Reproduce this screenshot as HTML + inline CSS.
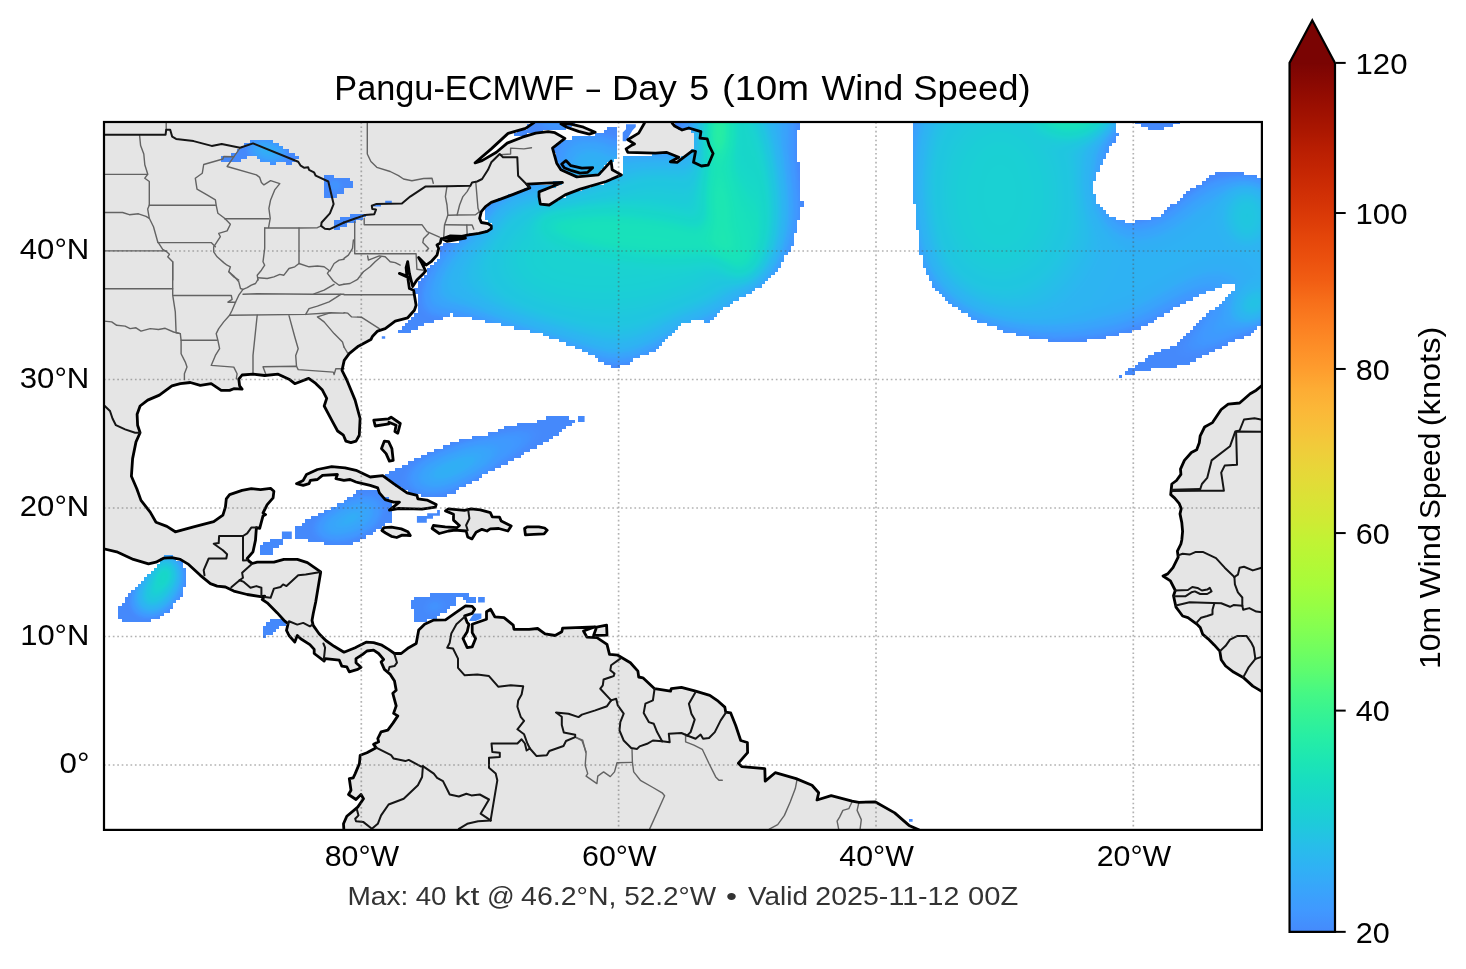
<!DOCTYPE html>
<html><head><meta charset="utf-8"><title>Pangu-ECMWF Day 5 10m Wind Speed</title>
<style>html,body{margin:0;padding:0;background:#fff;}body{width:1466px;height:969px;overflow:hidden;font-family:"Liberation Sans",sans-serif;}svg{display:block;}text{font-family:"Liberation Sans",sans-serif;}</style>
</head><body>
<svg width="1466" height="969" viewBox="0 0 1466 969">
<defs>
<clipPath id="frame"><rect x="104.0" y="122.0" width="1157.9" height="707.9"/></clipPath>
<linearGradient id="cb" x1="0" y1="1" x2="0" y2="0"><stop offset="0.0000" stop-color="#458afc"/><stop offset="0.0250" stop-color="#4099ff"/><stop offset="0.0500" stop-color="#38a5fb"/><stop offset="0.0750" stop-color="#2fb2f4"/><stop offset="0.1000" stop-color="#27bee9"/><stop offset="0.1250" stop-color="#1ecbda"/><stop offset="0.1500" stop-color="#19d5cd"/><stop offset="0.1750" stop-color="#18dec0"/><stop offset="0.2000" stop-color="#1de7b2"/><stop offset="0.2250" stop-color="#27eea4"/><stop offset="0.2500" stop-color="#35f394"/><stop offset="0.2750" stop-color="#46f884"/><stop offset="0.3000" stop-color="#5dfc6f"/><stop offset="0.3250" stop-color="#71fe5f"/><stop offset="0.3500" stop-color="#84ff51"/><stop offset="0.3750" stop-color="#96fe44"/><stop offset="0.4000" stop-color="#a7fc3a"/><stop offset="0.4250" stop-color="#b4f836"/><stop offset="0.4500" stop-color="#c1f334"/><stop offset="0.4750" stop-color="#d0ea34"/><stop offset="0.5000" stop-color="#dbe236"/><stop offset="0.5250" stop-color="#e5d938"/><stop offset="0.5500" stop-color="#eecf3a"/><stop offset="0.5750" stop-color="#f6c33a"/><stop offset="0.6000" stop-color="#fbb838"/><stop offset="0.6250" stop-color="#fdac34"/><stop offset="0.6500" stop-color="#fe9b2d"/><stop offset="0.6750" stop-color="#fd8d27"/><stop offset="0.7000" stop-color="#fb7e21"/><stop offset="0.7250" stop-color="#f76f1a"/><stop offset="0.7500" stop-color="#f15d13"/><stop offset="0.7750" stop-color="#eb500e"/><stop offset="0.8000" stop-color="#e4450a"/><stop offset="0.8250" stop-color="#da3907"/><stop offset="0.8500" stop-color="#d02f05"/><stop offset="0.8750" stop-color="#c52603"/><stop offset="0.9000" stop-color="#b91e02"/><stop offset="0.9250" stop-color="#a91601"/><stop offset="0.9500" stop-color="#9b0f01"/><stop offset="0.9750" stop-color="#8b0902"/><stop offset="1.0000" stop-color="#7a0403"/></linearGradient>
<filter id="wfA" filterUnits="userSpaceOnUse" x="-100" y="-100" width="1700" height="1200" color-interpolation-filters="sRGB"><feGaussianBlur stdDeviation="17"/></filter><filter id="wfB" filterUnits="userSpaceOnUse" x="-100" y="-100" width="1700" height="1200" color-interpolation-filters="sRGB"><feGaussianBlur stdDeviation="9"/></filter><filter id="wfC" filterUnits="userSpaceOnUse" x="-100" y="-100" width="1700" height="1200" color-interpolation-filters="sRGB"><feGaussianBlur stdDeviation="30"/></filter><filter id="wmap" filterUnits="userSpaceOnUse" x="-100" y="-100" width="1700" height="1200" color-interpolation-filters="sRGB"><feColorMatrix in="SourceGraphic" type="matrix" values="0 0 0 1 0  0 0 0 1 0  0 0 0 1 0  0 0 0 0 1" result="g"/><feComponentTransfer in="g"><feFuncR type="table" tableValues="0.271 0.271 0.271 0.271 0.271 0.271 0.271 0.271 0.271 0.271 0.271 0.271 0.271 0.263 0.255 0.251 0.243 0.231 0.227 0.220 0.216 0.200 0.192 0.184 0.180 0.180 0.173 0.165 0.157 0.153 0.145 0.137 0.133 0.125 0.125 0.122 0.118 0.110 0.106 0.102 0.102 0.098 0.094 0.094 0.094 0.094 0.094 0.094 0.098 0.098 0.102 0.110 0.114 0.122 0.133 0.145 0.153 0.165 0.173 0.184 0.196 0.208 0.220 0.235 0.247"/><feFuncG type="table" tableValues="0.541 0.541 0.541 0.541 0.541 0.541 0.541 0.541 0.541 0.541 0.541 0.541 0.549 0.569 0.588 0.600 0.608 0.627 0.639 0.647 0.659 0.678 0.686 0.698 0.706 0.706 0.718 0.725 0.737 0.745 0.753 0.765 0.773 0.780 0.780 0.788 0.796 0.804 0.816 0.824 0.831 0.835 0.843 0.843 0.851 0.859 0.871 0.878 0.886 0.890 0.894 0.902 0.906 0.914 0.922 0.925 0.933 0.937 0.941 0.945 0.949 0.953 0.957 0.961 0.965"/><feFuncB type="table" tableValues="0.988 0.988 0.988 0.988 0.988 0.988 0.988 0.988 0.988 0.988 0.988 0.988 0.992 0.996 1.000 1.000 0.996 0.992 0.988 0.984 0.980 0.969 0.961 0.957 0.949 0.949 0.941 0.933 0.922 0.914 0.906 0.894 0.886 0.875 0.875 0.867 0.855 0.847 0.835 0.824 0.816 0.804 0.792 0.792 0.784 0.773 0.753 0.741 0.733 0.725 0.714 0.706 0.698 0.686 0.667 0.655 0.643 0.631 0.620 0.608 0.596 0.580 0.569 0.557 0.541"/></feComponentTransfer></filter><clipPath id="wclip"><path d="M527,188H524V191H517V194H508V198H498V201H492V204H488V207H485V220H488V223H492V230H485V233H469V236H466V239H459V243H443V246H440V259H437V262H434V265H430V268H427V275H424V278H421V281H418V288H414V294H418V313H414V317H411V320H408V323H405V326H402V330H398V333H411V330H418V326H424V323H434V320H443V317H450V313H453V317H472V320H485V323H501V326H514V330H530V333H543V336H549V339H559V342H566V346H575V349H582V352H588V355H595V358H598V362H604V365H611V368H620V365H630V362H633V358H640V355H649V352H656V349H659V346H662V342H665V339H668V336H672V333H675V330H678V326H681V323H691V320H704V323H710V320H714V317H717V313H720V310H723V307H730V304H733V301H739V297H746V294H752V291H755V288H762V284H765V281H768V278H771V275H775V272H778V268H781V262H784V255H788V252H791V246H794V233H797V220H800V207H804V201H800V162H797V130H800V111H675V127H678V130H691V133H694V149H691V153H688V156H681V159H678V156H672V153H652V156H623V175H617V178H611V181H604V185H591V188H582V191H572V194H566V198H559V201H553V204H540V191H546V188H556V185H562V181H553V185H527Z M678,162H672V159H678Z M913,111V204H916V230H919V255H923V268H926V275H929V281H932V288H935V291H939V294H942V297H945V301H948V304H952V307H958V310H961V313H968V317H971V320H977V323H987V326H997V330H1003V333H1016V336H1029V339H1048V342H1087V339H1106V336H1119V333H1132V330H1141V326H1148V323H1154V320H1157V317H1164V313H1170V310H1173V307H1180V304H1186V301H1193V297H1199V294H1206V291H1215V288H1222V284H1235V291H1231V294H1228V297H1225V301H1222V304H1219V307H1215V310H1209V313H1206V317H1202V320H1199V323H1196V326H1193V330H1190V333H1186V336H1183V339H1180V342H1177V346H1170V349H1161V352H1154V355H1148V358H1145V362H1138V365H1135V368H1128V371H1125V375H1135V371H1151V368H1177V365H1190V362H1196V358H1202V355H1209V352H1215V349H1222V346H1228V342H1235V339H1244V336H1251V333H1254V330H1257V326H1264V323H1270V320H1273V178H1257V175H1244V172H1215V175H1209V178H1206V181H1202V185H1196V188H1190V191H1186V194H1183V198H1180V201H1177V204H1170V207H1167V210H1164V214H1161V217H1151V220H1135V223H1125V220H1116V217H1109V214H1106V210H1103V207H1100V204H1096V194H1093V181H1096V172H1100V165H1103V159H1106V153H1109V146H1112V143H1116V136H1119V133H1116V111Z M1122,378V375H1119V378Z M1135,111V124H1141V127H1148V130H1164V127H1173V124H1180V117H1183V111Z M421,458H414V461H408V465H402V468H395V471H389V474H385V478H389V481H392V484H395V487H402V490H408V494H421V497H447V494H456V490H459V487H466V484H472V481H479V478H482V474H488V471H495V468H501V465H508V461H514V458H521V455H524V452H530V449H537V445H543V442H549V439H553V436H559V432H562V429H566V426H572V423H575V420H569V416H546V420H537V423H517V426H504V429H498V432H488V436H472V439H459V442H450V445H443V449H434V452H427V455H421Z M578.0,416.0 L584.6,416.0 L584.6,422.0 L578.0,422.0Z M305,519V523H302V526H295V539H308V542H324V545H353V542H360V539H366V535H373V532H376V529H382V526H385V523H392V500H389V497H382V494H379V490H356V494H353V497H347V500H344V503H337V507H331V510H324V513H318V516H311V519Z M270,539V542H263V545H260V555H273V548H279V545H283V539Z M281.9,531.5 L291.8,531.5 L291.8,539.1 L281.9,539.1Z M416.9,516.1 L427.2,516.1 L427.2,513.2 L437.1,513.2 L437.1,509.9 L439.9,509.9 L439.9,515.7 L433.0,515.7 L433.0,518.8 L426.8,518.8 L426.8,522.7 L416.9,522.7Z M131,590V593H128V597H125V603H122V606H118V619H122V622H151V619H160V616H164V613H170V609H173V603H176V600H180V597H183V587H186V568H183V561H176V558H173V555H164V558H160V564H157V568H154V571H151V574H147V577H144V581H141V584H138V587H135V590Z M270,619V622H266V626H263V638H266V635H273V632H276V629H279V626H286V622H283V619Z M456,606V597H463V600H466V603H476V597H469V593H430V597H414V600H411V609H414V622H427V619H437V616H440V613H447V609H450V606Z M478.1,597.0 L484.8,597.0 L484.8,602.5 L478.1,602.5Z M468.9,620.9 L473.9,613.4 L481.4,613.4 L481.4,618.4 L475.6,620.9Z M250,143H244V146H241V149H237V153H231V156H221V162H241V159H247V156H257V159H260V162H270V165H276V162H286V165H292V162H295V159H299V156H295V153H289V149H283V146H279V143H273V140H250Z M324,175V198H337V194H344V188H353V181H350V178H334V175Z M366,214H350V217H340V220H334V230H340V227H347V223H356V220H363V217H366Z M373.4,204.5 L381.0,204.5 L381.0,206.5 L373.4,206.5Z M385.2,200.8 L391.8,200.8 L391.8,203.3 L385.2,203.3Z M553,153H556V165H559V169H562V172H569V175H575V178H578V175H601V169H604V165H607V162H614V159H617V127H607V130H604V133H595V136H572V140H562V143H556V146H553Z M530,111V124H527V130H517V133H514V136H527V133H543V130H566V127H572V124H575V111Z M622.7,141.2 L622.7,132.5 L626.0,129.2 L626.0,124.3 L635.8,124.3 L635.8,127.0 L632.6,130.3 L629.3,135.7 L626.0,141.2Z M909.0,819.0 L912.6,819.0 L912.6,821.7 L909.0,821.7Z M381.8,336.2 L385.2,336.2 L385.2,338.7 L381.8,338.7Z" clip-rule="evenodd" shape-rendering="crispEdges"/></clipPath>
</defs>
<rect width="1466" height="969" fill="#fff"/>
<g clip-path="url(#frame)">
<path d="M98.0,115.0 L536.5,114.7 L534.0,122.7 L525.6,128.4 L508.1,133.4 L491.3,148.9 L475.1,162.8 L482.1,160.6 L496.4,152.3 L507.2,143.1 L522.3,137.2 L535.7,133.1 L548.2,131.7 L554.9,132.7 L564.9,138.4 L552.5,148.1 L556.7,163.2 L560.9,169.8 L576.8,176.9 L598.5,174.9 L611.1,161.1 L612.2,169.8 L621.4,174.9 L606.1,181.5 L580.1,189.1 L565.1,194.9 L549.2,205.0 L540.3,204.1 L539.0,196.6 L539.0,191.9 L562.4,182.5 L546.4,183.2 L526.8,184.2 L529.8,187.9 L513.9,194.1 L500.5,199.1 L491.3,202.4 L485.5,206.6 L481.3,211.6 L479.6,218.3 L481.3,222.5 L488.0,223.7 L491.3,225.9 L491.3,228.7 L487.2,231.4 L478.8,233.4 L467.1,235.1 L457.1,237.6 L447.0,238.4 L441.2,238.7 L440.3,243.0 L437.0,245.0 L438.7,248.4 L437.0,255.1 L431.1,261.7 L426.1,265.1 L418.6,257.6 L421.9,263.4 L425.6,270.9 L423.6,273.4 L416.9,280.1 L412.7,286.5 L409.4,273.4 L407.7,261.7 L406.1,267.6 L406.9,276.0 L399.4,273.4 L407.7,277.1 L409.4,288.5 L413.6,290.2 L416.1,305.2 L414.4,310.2 L407.7,317.8 L395.2,321.1 L385.2,328.6 L377.6,331.1 L372.6,336.2 L370.9,339.5 L358.4,346.2 L349.2,353.7 L344.2,360.4 L342.0,370.4 L346.8,380.0 L355.1,400.1 L360.1,418.5 L359.3,435.2 L356.0,441.1 L350.9,442.7 L345.9,441.1 L343.4,435.2 L337.6,431.0 L331.7,420.2 L324.2,406.0 L326.7,398.4 L322.4,390.1 L315.7,383.4 L308.7,378.4 L294.8,383.7 L289.0,379.2 L278.1,374.2 L264.7,375.5 L253.0,374.2 L242.1,375.0 L238.8,379.2 L239.6,385.9 L242.1,389.2 L233.8,388.7 L229.6,390.4 L221.2,390.4 L211.2,383.7 L200.3,385.4 L190.3,382.5 L180.3,383.7 L171.9,385.9 L159.4,395.1 L147.7,400.1 L140.1,406.0 L137.1,414.3 L137.6,425.2 L140.1,432.7 L136.0,441.9 L132.6,458.6 L131.4,476.2 L136.8,488.7 L141.0,500.4 L150.2,512.1 L156.0,522.2 L166.9,526.4 L175.3,531.8 L193.6,526.8 L213.7,521.7 L222.9,515.1 L225.4,507.1 L226.3,498.8 L229.6,494.6 L242.1,490.4 L251.3,488.7 L260.5,489.6 L270.6,488.4 L273.9,491.2 L273.1,497.9 L267.2,504.6 L263.0,513.0 L265.6,514.6 L263.0,515.9 L259.7,528.4 L256.4,527.6 L255.5,540.1 L253.0,551.8 L247.2,558.5 L248.8,561.0 L252.2,563.5 L257.2,562.2 L273.9,562.2 L283.9,559.4 L297.3,559.4 L307.4,562.7 L320.7,571.9 L318.2,587.0 L315.7,602.0 L313.2,613.7 L312.0,620.4 L313.2,625.4 L319.1,633.8 L325.8,640.5 L334.1,646.3 L344.0,652.2 L355.2,647.7 L366.1,642.2 L373.6,642.7 L381.9,645.2 L388.6,649.4 L394.5,653.5 L401.2,653.5 L408.7,647.7 L416.2,643.5 L418.7,630.1 L424.6,624.3 L433.8,620.1 L445.5,619.8 L457.2,611.7 L465.6,605.9 L472.2,606.4 L474.7,609.2 L472.2,613.4 L464.7,615.9 L467.2,622.6 L468.9,624.3 L467.2,631.8 L463.0,638.5 L467.2,647.7 L472.2,646.9 L475.6,638.5 L472.2,632.6 L472.2,624.3 L486.5,619.3 L486.5,611.7 L490.6,609.2 L494.8,616.8 L504.0,617.6 L513.2,625.1 L514.0,629.3 L529.1,629.3 L537.6,628.5 L545.1,633.8 L555.1,635.5 L561.8,631.8 L562.6,628.1 L595.3,626.8 L583.5,631.0 L586.9,637.2 L596.9,637.7 L607.0,644.3 L609.5,654.4 L617.8,655.2 L630.4,662.7 L637.9,671.1 L638.7,677.0 L642.9,677.8 L654.6,688.7 L670.5,691.2 L671.3,688.7 L681.4,687.3 L695.6,691.2 L709.8,695.4 L718.2,701.2 L724.8,707.1 L725.7,712.1 L730.7,712.9 L735.7,725.5 L740.7,740.5 L747.4,742.5 L747.6,752.7 L738.4,763.2 L741.7,766.6 L764.8,768.6 L765.2,781.1 L775.2,772.7 L796.1,778.6 L812.0,785.3 L818.7,792.8 L817.0,800.0 L831.2,795.7 L852.1,801.2 L858.8,802.3 L875.5,802.0 L894.7,812.9 L909.0,825.4 L918.2,829.6 L929.0,835.5 L343.8,832.1 L343.8,828.8 L343.5,823.8 L346.8,816.3 L357.7,807.1 L363.5,798.7 L361.0,794.5 L356.0,799.5 L348.5,794.5 L351.0,790.3 L349.3,778.6 L353.2,777.8 L355.2,773.6 L359.4,763.6 L360.2,755.2 L366.9,752.7 L376.1,747.7 L373.6,744.3 L378.6,741.8 L377.8,738.5 L381.1,731.8 L387.8,730.1 L392.8,723.4 L397.8,715.9 L393.6,713.4 L396.2,705.9 L392.8,693.3 L396.2,690.3 L394.5,681.1 L390.3,674.4 L384.4,669.4 L381.1,661.9 L383.6,659.4 L378.6,653.5 L373.6,650.2 L366.9,651.0 L362.7,654.4 L356.0,658.6 L356.0,662.7 L361.0,667.3 L357.7,669.4 L349.3,671.9 L346.8,666.9 L341.8,666.1 L339.3,660.2 L325.1,658.6 L324.2,661.1 L314.2,653.5 L314.2,649.4 L309.9,644.6 L300.7,638.8 L297.3,635.5 L294.8,642.1 L289.0,635.5 L286.5,630.4 L288.1,623.7 L284.8,621.2 L277.3,612.9 L267.2,602.8 L262.2,599.5 L264.7,596.2 L260.5,596.7 L247.2,594.5 L233.8,591.1 L225.4,587.0 L217.1,586.1 L210.4,583.6 L200.3,575.3 L188.6,564.4 L180.3,559.4 L171.9,557.7 L163.5,558.2 L156.0,562.2 L148.5,563.9 L133.4,559.4 L116.7,551.8 L103.7,548.8 L95.0,547.7Z M1270.4,379.6 L1261.6,385.8 L1256.3,390.2 L1250.2,393.7 L1239.6,403.0 L1228.2,404.2 L1221.2,409.5 L1212.5,422.6 L1204.6,427.0 L1200.2,435.8 L1199.3,442.8 L1196.7,449.8 L1191.4,452.5 L1184.4,460.4 L1180.5,469.1 L1180.9,474.4 L1176.5,480.5 L1171.8,484.0 L1170.7,494.6 L1174.7,498.1 L1179.1,503.3 L1181.2,508.6 L1180.0,513.9 L1181.8,522.6 L1182.6,531.4 L1181.8,540.0 L1180.9,544.0 L1177.4,551.1 L1178.2,557.2 L1173.0,567.7 L1167.7,573.9 L1163.0,576.0 L1170.4,580.9 L1175.3,590.5 L1173.5,595.8 L1176.0,607.2 L1180.0,612.5 L1182.6,616.0 L1187.9,617.7 L1197.5,624.7 L1200.2,627.4 L1202.8,634.4 L1208.1,638.8 L1214.2,644.9 L1219.8,651.1 L1221.2,659.8 L1225.6,666.0 L1233.5,672.1 L1243.2,677.4 L1252.8,686.1 L1261.6,691.4 L1270.4,696.7Z M644.5,116.3 L644.5,123.0 L638.7,133.1 L627.8,139.7 L634.5,143.9 L631.1,145.6 L626.1,148.9 L627.8,152.3 L655.4,153.1 L666.3,152.3 L678.8,157.3 L670.4,161.8 L677.1,162.3 L692.2,150.9 L695.5,151.4 L693.5,162.3 L701.4,166.0 L708.1,165.2 L713.1,153.5 L709.2,145.6 L707.2,138.9 L700.0,138.1 L700.9,131.7 L688.8,128.0 L682.1,130.0 L674.6,126.0 L672.1,123.0 L672.1,116.3Z M560.9,123.9 L570.1,123.9 L583.5,127.2 L595.2,132.2 L589.3,134.2 L578.5,131.4 L566.8,127.2Z M561.7,164.0 L565.9,160.6 L570.9,165.7 L581.8,168.2 L592.7,167.7 L587.7,172.3 L580.1,173.2 L571.8,170.7 L564.2,167.8Z M442.3,238.7 L450.4,235.9 L464.6,236.4 L465.4,238.1 L457.1,239.7 L447.0,241.4Z M373.8,420.2 L388.6,418.8 L391.1,417.2 L400.3,423.5 L397.8,433.2 L394.9,431.5 L396.1,425.2 L388.9,422.2 L388.9,423.8 L375.2,426.0Z M384.4,441.1 L388.6,441.6 L391.9,448.6 L393.2,460.3 L389.4,461.1 L386.1,453.6 L381.5,448.6Z M296.5,483.7 L303.2,480.4 L306.5,474.5 L317.4,469.5 L331.7,466.7 L345.1,467.8 L356.0,470.3 L370.2,477.0 L382.7,475.7 L393.6,483.7 L407.0,492.9 L417.0,495.4 L417.8,498.8 L427.0,500.1 L436.2,504.6 L435.4,507.1 L422.0,509.1 L413.6,508.8 L398.6,508.5 L389.4,510.1 L399.4,502.1 L393.6,502.1 L385.2,499.6 L379.4,492.9 L377.7,487.9 L370.2,485.4 L356.0,482.0 L350.1,479.5 L343.9,480.4 L335.9,478.7 L337.4,474.5 L322.5,475.4 L317.4,479.5 L310.4,480.4 L309.0,483.7 L303.2,485.4Z M445.5,510.9 L448.5,508.8 L464.4,510.4 L471.1,508.8 L480.3,509.8 L490.3,512.6 L492.3,516.8 L499.5,517.1 L501.2,521.0 L511.2,526.0 L507.9,531.0 L498.7,528.5 L490.3,528.8 L487.0,531.0 L481.9,529.3 L476.1,532.2 L471.9,538.9 L467.7,536.9 L466.1,531.0 L455.2,530.2 L448.5,531.0 L439.3,533.5 L432.1,528.5 L433.4,525.5 L445.2,526.8 L456.9,527.7 L459.4,525.5 L453.5,520.1 L453.5,514.3Z M524.6,528.5 L527.1,526.8 L538.8,526.8 L544.6,528.0 L547.2,530.2 L544.1,533.8 L533.8,534.3 L525.4,534.8Z M381.9,530.5 L383.9,527.6 L391.4,527.2 L401.3,528.9 L407.9,531.8 L410.3,535.5 L402.1,535.1 L396.7,537.5 L391.4,536.3 L385.6,533.0Z M596.6,627.1 L606.6,625.1 L607.0,635.2 L593.6,635.5Z" fill="#e5e5e5" stroke="none"/>
<g clip-path="url(#wclip)"><g filter="url(#wmap)"><g filter="url(#wfA)"><path d="M673.8,74.5 L673.8,124.7 L682.1,130.5 L688.8,128.9 L693.8,133.1 L693.8,149.8 L691.3,150.9 L677.1,161.8 L670.4,161.1 L678.8,156.8 L666.3,152.8 L655.4,154.0 L640.3,156.1 L623.3,156.1 L623.3,173.2 L621.4,175.7 L606.1,182.4 L580.1,189.9 L565.1,195.8 L549.2,205.3 L549.0,204.1 L540.7,203.3 L539.8,192.4 L562.4,182.9 L546.4,183.6 L526.8,184.6 L529.8,187.9 L513.9,194.1 L500.5,199.1 L491.3,202.4 L487.2,205.8 L486.3,211.6 L487.2,220.0 L491.3,225.9 L491.3,228.7 L487.2,231.4 L478.8,233.4 L467.1,235.4 L466.3,238.7 L457.9,241.4 L448.7,243.8 L442.5,243.4 L442.5,244.8 L440.3,247.4 L441.2,249.9 L439.5,256.6 L433.6,263.2 L429.5,266.8 L428.3,272.4 L426.1,274.9 L419.4,281.6 L415.6,288.0 L416.1,291.7 L418.6,306.7 L416.9,311.7 L412.7,318.1 L406.9,322.1 L401.0,327.6 L396.9,333.6 L397.7,333.6 L410.2,331.1 L423.0,324.9 L437.0,320.3 L450.6,314.5 L475.2,318.7 L502.8,324.9 L524.3,329.5 L547.3,335.6 L564.2,343.3 L581.0,349.4 L594.9,357.1 L605.6,364.8 L616.3,367.5 L625.5,364.8 L640.9,355.6 L653.2,352.5 L668.5,338.7 L679.3,324.9 L693.1,320.3 L710.0,321.8 L726.8,306.4 L742.2,297.2 L763.7,285.0 L779.0,269.6 L785.2,257.3 L791.3,248.1 L799.0,217.4 L803.0,202.1 L799.0,194.4 L799.0,162.2 L796.8,156.0 L799.0,122.3 L800.0,80.0Z" fill="#000" fill-opacity="0.36"/><path d="M915.8,80.0 L913.2,132.8 L913.2,197.3 L917.0,216.2 L919.6,251.6 L925.9,271.9 L934.7,289.6 L955.0,307.3 L975.2,319.9 L1005.6,331.3 L1033.4,338.9 L1061.2,342.2 L1081.4,340.7 L1096.0,340.0 L1131.5,331.3 L1151.7,322.4 L1174.5,308.5 L1199.8,294.6 L1220.0,287.0 L1232.7,281.5 L1234.0,290.8 L1222.6,302.2 L1210.0,312.3 L1197.3,325.0 L1184.6,337.6 L1177.0,345.0 L1156.8,351.4 L1136.6,365.3 L1118.0,377.0 L1146.7,370.3 L1182.0,365.3 L1202.0,357.7 L1220.0,347.6 L1242.8,337.6 L1252.9,332.6 L1261.5,325.0 L1320.0,300.0 L1320.0,185.0 L1261.5,178.3 L1240.3,172.5 L1220.0,172.0 L1212.4,174.5 L1202.3,183.3 L1187.1,191.0 L1174.5,203.6 L1161.8,215.0 L1144.1,221.3 L1125.2,222.5 L1108.7,216.2 L1097.4,203.6 L1093.1,188.4 L1095.6,173.2 L1101.2,165.6 L1108.7,150.5 L1117.6,135.3 L1115.1,122.6 L1115.0,80.0Z" fill="#000" fill-opacity="0.36"/><path d="M1135.3,95.0 L1135.3,122.0 L1156.8,131.5 L1179.6,122.0 L1190.0,95.0Z" fill="#000" fill-opacity="0.36"/><path d="M385.2,475.7 L395.3,469.5 L413.6,460.3 L437.1,449.4 L462.1,439.4 L478.4,436.1 L491.0,433.6 L506.2,427.3 L523.9,423.5 L541.6,420.9 L551.7,415.9 L564.4,415.9 L574.5,421.0 L561.9,431.0 L546.7,441.2 L531.5,448.7 L511.3,461.4 L486.0,474.0 L463.2,486.7 L454.4,493.0 L442.9,496.3 L427.0,496.3 L417.0,494.6 L407.0,492.0 L393.6,483.7Z" fill="#000" fill-opacity="0.36"/><path d="M578.0,416.0 L584.6,416.0 L584.6,422.0 L578.0,422.0Z" fill="#000" fill-opacity="0.36"/><path d="M295.6,537.8 L295.6,526.5 L302.0,523.9 L310.8,517.6 L323.5,511.3 L336.1,506.2 L343.7,501.2 L351.3,496.1 L361.4,489.8 L376.6,489.8 L381.6,494.8 L391.7,501.2 L391.7,521.4 L381.6,526.5 L371.5,534.0 L361.4,539.1 L351.3,544.7 L331.0,544.7 L315.9,541.6Z" fill="#000" fill-opacity="0.36"/><path d="M260.2,554.3 L260.2,546.7 L264.0,542.9 L270.3,539.3 L281.5,539.3 L281.5,542.9 L277.9,546.7 L272.9,550.5 L272.9,554.3Z" fill="#000" fill-opacity="0.36"/><path d="M281.9,531.5 L291.8,531.5 L291.8,539.1 L281.9,539.1Z" fill="#000" fill-opacity="0.36"/><path d="M416.9,516.1 L427.2,516.1 L427.2,513.2 L437.1,513.2 L437.1,509.9 L439.9,509.9 L439.9,515.7 L433.0,515.7 L433.0,518.8 L426.8,518.8 L426.8,522.7 L416.9,522.7Z" fill="#000" fill-opacity="0.36"/><path d="M166.0,555.5 L172.7,555.5 L180.3,561.9 L186.1,568.6 L186.1,582.8 L182.8,592.0 L178.6,600.3 L173.6,605.4 L169.4,611.2 L160.2,617.1 L150.2,621.2 L121.7,621.7 L118.1,617.1 L118.1,609.5 L121.7,603.7 L127.6,597.0 L133.4,591.1 L141.0,583.6 L144.3,577.8 L154.3,568.6 L158.5,563.5 L163.5,557.7Z" fill="#000" fill-opacity="0.36"/><path d="M273.9,619.1 L283.1,619.1 L284.8,624.6 L278.9,627.1 L275.6,632.1 L270.6,633.8 L265.6,637.5 L263.0,637.5 L263.0,628.8 L267.2,622.9Z" fill="#000" fill-opacity="0.36"/><path d="M413.7,600.0 L417.1,597.0 L430.4,597.0 L430.4,593.0 L468.9,593.0 L468.9,597.0 L474.7,597.0 L474.7,602.5 L468.9,602.5 L465.6,600.0 L460.5,597.5 L456.4,597.5 L457.2,603.4 L450.5,606.7 L443.8,611.7 L437.1,615.1 L433.8,619.3 L417.1,621.8 L414.5,618.4 L414.5,608.4 L411.2,608.4 L411.2,603.4Z" fill="#000" fill-opacity="0.36"/><path d="M478.1,597.0 L484.8,597.0 L484.8,602.5 L478.1,602.5Z" fill="#000" fill-opacity="0.36"/><path d="M468.9,620.9 L473.9,613.4 L481.4,613.4 L481.4,618.4 L475.6,620.9Z" fill="#000" fill-opacity="0.36"/><path d="M221.2,157.3 L232.1,157.3 L232.1,153.1 L240.5,149.8 L247.2,143.1 L253.0,139.7 L268.9,140.1 L275.6,143.1 L281.4,146.4 L285.6,149.8 L294.8,153.1 L298.2,159.0 L291.5,161.8 L291.5,165.7 L285.6,165.7 L283.9,161.8 L269.7,165.7 L268.9,161.8 L260.5,161.8 L259.7,158.1 L253.0,155.6 L243.8,158.1 L237.1,161.8 L221.2,161.8Z" fill="#000" fill-opacity="0.36"/><path d="M323.9,175.2 L334.1,175.2 L334.1,178.3 L349.2,178.3 L349.2,182.1 L353.0,182.1 L353.0,187.1 L345.4,188.4 L341.6,193.5 L334.1,197.2 L326.5,197.2 L323.9,188.4Z" fill="#000" fill-opacity="0.36"/><path d="M334.1,220.0 L345.4,217.5 L355.5,213.7 L365.7,213.7 L365.7,217.5 L355.5,221.3 L345.4,225.1 L336.6,228.9 L334.1,228.9Z" fill="#000" fill-opacity="0.36"/><path d="M373.4,204.5 L381.0,204.5 L381.0,206.5 L373.4,206.5Z" fill="#000" fill-opacity="0.36"/><path d="M385.2,200.8 L391.8,200.8 L391.8,203.3 L385.2,203.3Z" fill="#000" fill-opacity="0.36"/><path d="M553.4,147.3 L565.1,139.4 L576.0,137.2 L601.0,134.4 L608.6,127.7 L616.9,127.2 L617.3,159.0 L611.9,160.6 L604.4,166.5 L598.5,174.5 L576.8,176.5 L560.9,169.5 L556.7,162.8Z" fill="#000" fill-opacity="0.36"/><path d="M529.0,84.6 L574.1,84.6 L574.1,123.0 L564.9,128.4 L549.0,130.5 L535.7,132.2 L523.9,135.6 L514.7,136.4 L514.7,133.1 L525.6,128.9 L529.0,123.0Z" fill="#000" fill-opacity="0.36"/><path d="M622.7,141.2 L622.7,132.5 L626.0,129.2 L626.0,124.3 L635.8,124.3 L635.8,127.0 L632.6,130.3 L629.3,135.7 L626.0,141.2Z" fill="#000" fill-opacity="0.36"/><path d="M909.0,819.0 L912.6,819.0 L912.6,821.7 L909.0,821.7Z" fill="#000" fill-opacity="0.36"/><path d="M381.8,336.2 L385.2,336.2 L385.2,338.7 L381.8,338.7Z" fill="#000" fill-opacity="0.36"/></g><g filter="url(#wfB)"><ellipse cx="635.0" cy="234.0" rx="100.0" ry="22.0" transform="rotate(7 635.0 234.0)" fill="#000" fill-opacity="0.36"/><ellipse cx="718.0" cy="170.0" rx="10.0" ry="62.0" transform="rotate(-3 718.0 170.0)" fill="#000" fill-opacity="0.40"/><ellipse cx="738.0" cy="185.0" rx="36.0" ry="95.0" transform="rotate(-4 738.0 185.0)" fill="#000" fill-opacity="0.46"/><ellipse cx="717.0" cy="128.0" rx="13.0" ry="30.0" transform="rotate(0 717.0 128.0)" fill="#000" fill-opacity="0.75"/><ellipse cx="1075.0" cy="100.0" rx="45.0" ry="38.0" transform="rotate(0 1075.0 100.0)" fill="#000" fill-opacity="0.60"/><ellipse cx="1247.0" cy="215.0" rx="20.0" ry="28.0" transform="rotate(0 1247.0 215.0)" fill="#000" fill-opacity="0.25"/><ellipse cx="1254.0" cy="305.0" rx="18.0" ry="13.0" transform="rotate(-35 1254.0 305.0)" fill="#000" fill-opacity="0.30"/><ellipse cx="164.5" cy="569.5" rx="7.0" ry="13.0" transform="rotate(15 164.5 569.5)" fill="#000" fill-opacity="0.95"/><ellipse cx="159.0" cy="586.0" rx="13.0" ry="26.0" transform="rotate(35 159.0 586.0)" fill="#000" fill-opacity="0.55"/><ellipse cx="268.0" cy="151.0" rx="24.0" ry="6.0" transform="rotate(15 268.0 151.0)" fill="#000" fill-opacity="0.50"/><ellipse cx="335.0" cy="185.0" rx="9.0" ry="8.0" transform="rotate(0 335.0 185.0)" fill="#000" fill-opacity="0.40"/><ellipse cx="455.0" cy="468.0" rx="40.0" ry="10.0" transform="rotate(-25 455.0 468.0)" fill="#000" fill-opacity="0.10"/><ellipse cx="345.0" cy="520.0" rx="32.0" ry="10.0" transform="rotate(-28 345.0 520.0)" fill="#000" fill-opacity="0.10"/><ellipse cx="435.0" cy="607.0" rx="18.0" ry="8.0" transform="rotate(-10 435.0 607.0)" fill="#000" fill-opacity="0.15"/></g><g filter="url(#wfC)"><ellipse cx="622.0" cy="250.0" rx="150.0" ry="82.0" transform="rotate(-6 622.0 250.0)" fill="#000" fill-opacity="0.40"/><ellipse cx="1000.0" cy="195.0" rx="85.0" ry="110.0" transform="rotate(0 1000.0 195.0)" fill="#000" fill-opacity="0.38"/></g></g></g>
<g fill="none" stroke="#636363" stroke-width="1.4" stroke-linejoin="round" stroke-linecap="round">
<path d="M166.2,122.2 L166.2,129.7"/>
<path d="M139.6,135.6 L140.6,145.6 L143.8,154.0 L144.8,164.8 L147.7,174.0"/>
<path d="M103.7,174.4 L147.7,174.4 L144.8,178.2 L149.3,181.5 L149.3,205.0"/>
<path d="M149.3,205.3 L215.4,205.3"/>
<path d="M103.7,212.5 L122.6,212.5 L129.3,214.7 L138.5,213.8 L146.0,216.3 L149.3,218.3"/>
<path d="M149.3,205.3 L147.7,209.1 L149.3,218.3 L153.5,226.7 L157.7,241.7 L162.7,249.3 L166.1,251.3"/>
<path d="M103.7,250.9 L166.1,250.9"/>
<path d="M157.7,242.6 L211.2,242.6 L215.4,246.8"/>
<path d="M166.1,251.3 L169.4,254.3 L167.7,256.8 L172.7,261.8 L172.7,280.0"/>
<path d="M233.8,156.8 L223.7,156.5 L222.9,159.0 L203.7,164.5 L202.3,173.2 L195.3,178.2 L197.0,189.1 L207.0,194.9 L215.4,199.9 L216.2,205.3 L217.9,213.3 L224.6,218.3 L230.4,224.2 L227.1,230.9 L218.7,233.4 L220.4,236.7 L217.1,241.7 L213.7,246.8 L213.7,251.8 L217.1,256.8 L223.7,262.6 L227.1,265.2 L230.4,266.8 L228.8,271.8 L233.8,276.9 L238.8,280.0"/>
<path d="M224.6,218.7 L268.9,218.7"/>
<path d="M240.1,147.8 L232.9,158.1 L227.1,166.5 L256.4,174.9 L259.7,177.4 L261.4,182.4 L263.9,184.9 L270.6,180.7 L279.8,183.6 L274.7,189.9 L270.6,199.9 L268.9,208.3 L270.2,218.3 L268.6,227.5"/>
<path d="M264.7,228.0 L264.7,248.4 L263.0,261.8 L264.7,265.2 L261.4,270.2 L257.2,275.2 L258.0,280.0"/>
<path d="M264.7,228.0 L299.0,228.0 L317.4,227.7 L321.1,225.9"/>
<path d="M299.0,228.0 L299.0,263.5"/>
<path d="M258.0,277.7 L267.2,278.5 L273.9,276.9 L279.8,274.4 L283.9,275.2 L289.0,268.5 L294.8,266.8 L299.0,263.5 L309.0,266.8 L317.4,266.0 L324.1,266.8 L329.9,271.0 L334.1,263.5 L339.1,260.1 L344.0,259.3"/>
<path d="M103.7,288.8 L172.7,288.8"/>
<path d="M172.7,261.7 L172.7,295.2 L175.3,311.9 L176.1,332.8 L180.3,333.6"/>
<path d="M173.6,295.5 L231.3,295.5 L232.1,299.4 L227.9,302.2 L235.5,302.2"/>
<path d="M103.7,321.1 L111.7,321.9 L116.7,325.3 L125.1,326.1 L130.1,328.6 L136.0,327.8 L141.0,331.1 L150.2,328.6 L158.5,329.5 L165.2,328.3 L173.6,332.0 L180.3,333.6 L181.1,340.3 L181.1,353.7 L185.3,362.1 L187.0,367.1 L184.4,373.8 L184.4,379.6"/>
<path d="M181.1,340.3 L217.1,340.3"/>
<path d="M228.8,271.8 L233.8,276.0 L238.8,281.8 L240.5,288.5 L243.0,289.3 L238.8,295.2 L235.5,302.2 L232.1,310.2 L229.6,315.3 L223.7,321.9 L218.7,328.6 L216.2,333.6 L217.9,340.3 L219.6,348.7 L215.4,355.4 L211.2,365.4 L233.8,367.1 L237.1,373.8 L236.3,378.8"/>
<path d="M258.0,279.3 L255.5,283.5 L251.3,285.2 L247.2,287.7 L243.0,289.3"/>
<path d="M243.0,294.3 L257.2,293.8 L314.0,294.3 L344.0,294.3"/>
<path d="M329.1,270.9 L327.4,273.4 L333.3,281.0 L339.1,285.2 L344.0,284.3"/>
<path d="M314.0,293.8 L324.1,290.2 L334.1,284.3"/>
<path d="M305.7,314.4 L309.0,308.6 L317.4,306.1 L329.1,301.9 L335.8,297.7 L340.8,294.3"/>
<path d="M229.6,315.3 L305.7,314.4 L330.8,312.7 L344.0,313.1"/>
<path d="M257.2,315.3 L253.0,355.4 L253.0,373.8"/>
<path d="M289.0,315.6 L294.8,337.0 L298.2,348.7 L295.7,355.4 L296.5,366.3"/>
<path d="M265.6,373.8 L263.0,366.8 L296.5,366.3 L298.2,369.6 L333.3,372.1 L334.1,374.6 L335.8,368.8 L344.0,368.8"/>
<path d="M330.8,312.7 L317.4,316.9 L324.1,321.9 L334.1,333.6 L342.5,342.0 L344.0,347.0"/>
<path d="M367.3,123.0 L367.3,154.0 L370.9,161.5 L376.8,167.3 L390.2,171.5 L398.5,175.7 L403.5,179.0 L411.9,180.7 L423.6,178.5 L432.0,178.2 L433.3,183.2"/>
<path d="M364.2,218.3 L364.2,224.7 L421.9,224.7 L427.0,231.7 L439.5,237.1"/>
<path d="M428.6,233.4 L423.6,238.4 L422.8,242.6 L428.6,248.4 L426.1,250.9"/>
<path d="M447.0,186.2 L445.4,196.6 L447.0,205.0 L447.9,215.0 L444.5,225.0 L443.7,237.1"/>
<path d="M470.4,185.7 L467.1,191.6 L462.9,196.6 L459.6,205.0 L457.1,215.0"/>
<path d="M475.8,182.4 L478.0,208.3 L479.6,212.5"/>
<path d="M447.9,215.3 L457.1,215.0 L475.5,214.7 L479.6,211.6"/>
<path d="M445.4,224.7 L466.3,225.0 L472.1,225.0 L473.8,229.2"/>
<path d="M466.8,225.0 L467.1,233.4"/>
<path d="M354.7,221.7 L354.7,253.8 L416.1,253.8 L416.9,269.3 L423.6,270.2"/>
<path d="M500.5,154.8 L510.6,154.0 L510.6,148.1 L523.9,148.9 L531.5,147.8"/>
<path d="M367.6,255.9 L368.4,260.1 L379.3,255.9 L385.2,256.7 L390.2,261.7 L395.2,262.6 L400.2,265.1"/>
<path d="M344.0,284.3 L350.0,283.5 L357.6,279.3 L363.4,271.8 L370.1,266.8 L375.1,261.7 L381.0,256.7"/>
<path d="M344.0,258.4 L348.4,255.1 L352.5,248.4 L353.4,240.0"/>
<path d="M344.0,294.7 L414.4,294.7"/>
<path d="M344.0,312.7 L347.5,313.1 L351.7,316.9 L361.7,317.3 L379.3,328.6"/>
<path d="M344.0,347.0 L347.5,352.9 L349.2,353.7"/>
<path d="M575.2,737.2 L581.9,740.5 L584.4,747.2 L586.1,752.0"/>
<path d="M575.2,737.1 L582.7,740.1 L586.1,753.5 L585.2,765.2 L587.7,773.6 L586.1,776.1 L596.9,783.6 L597.8,776.1 L603.6,771.9 L610.3,776.6 L614.5,771.9 L617.0,762.7 L632.0,762.4"/>
<path d="M632.0,748.5 L632.4,762.4 L633.7,771.9 L640.4,780.3 L652.1,787.0 L662.1,792.8 L664.6,795.7 L649.6,829.1"/>
<path d="M685.6,734.3 L685.6,741.8 L693.9,745.2 L702.3,749.3 L709.0,763.5 L715.7,776.9 L719.0,780.3 L722.3,780.3"/>
<path d="M796.9,780.3 L795.3,788.6 L790.2,802.0 L784.4,815.4 L777.7,824.6 L769.3,829.1"/>
<path d="M852.1,801.7 L848.8,808.7 L842.9,810.4 L839.6,817.1 L837.1,821.2 L838.7,829.1"/>
<path d="M858.8,802.8 L857.1,810.4 L861.3,819.6 L860.1,829.1"/>
</g>
<path d="M98.0,115.0 L536.5,114.7 L534.0,122.7 L525.6,128.4 L508.1,133.4 L491.3,148.9 L475.1,162.8 L482.1,160.6 L496.4,152.3 L507.2,143.1 L522.3,137.2 L535.7,133.1 L548.2,131.7 L554.9,132.7 L564.9,138.4 L552.5,148.1 L556.7,163.2 L560.9,169.8 L576.8,176.9 L598.5,174.9 L611.1,161.1 L612.2,169.8 L621.4,174.9 L606.1,181.5 L580.1,189.1 L565.1,194.9 L549.2,205.0 L540.3,204.1 L539.0,196.6 L539.0,191.9 L562.4,182.5 L546.4,183.2 L526.8,184.2 L529.8,187.9 L513.9,194.1 L500.5,199.1 L491.3,202.4 L485.5,206.6 L481.3,211.6 L479.6,218.3 L481.3,222.5 L488.0,223.7 L491.3,225.9 L491.3,228.7 L487.2,231.4 L478.8,233.4 L467.1,235.1 L457.1,237.6 L447.0,238.4 L441.2,238.7 L440.3,243.0 L437.0,245.0 L438.7,248.4 L437.0,255.1 L431.1,261.7 L426.1,265.1 L418.6,257.6 L421.9,263.4 L425.6,270.9 L423.6,273.4 L416.9,280.1 L412.7,286.5 L409.4,273.4 L407.7,261.7 L406.1,267.6 L406.9,276.0 L399.4,273.4 L407.7,277.1 L409.4,288.5 L413.6,290.2 L416.1,305.2 L414.4,310.2 L407.7,317.8 L395.2,321.1 L385.2,328.6 L377.6,331.1 L372.6,336.2 L370.9,339.5 L358.4,346.2 L349.2,353.7 L344.2,360.4 L342.0,370.4 L346.8,380.0 L355.1,400.1 L360.1,418.5 L359.3,435.2 L356.0,441.1 L350.9,442.7 L345.9,441.1 L343.4,435.2 L337.6,431.0 L331.7,420.2 L324.2,406.0 L326.7,398.4 L322.4,390.1 L315.7,383.4 L308.7,378.4 L294.8,383.7 L289.0,379.2 L278.1,374.2 L264.7,375.5 L253.0,374.2 L242.1,375.0 L238.8,379.2 L239.6,385.9 L242.1,389.2 L233.8,388.7 L229.6,390.4 L221.2,390.4 L211.2,383.7 L200.3,385.4 L190.3,382.5 L180.3,383.7 L171.9,385.9 L159.4,395.1 L147.7,400.1 L140.1,406.0 L137.1,414.3 L137.6,425.2 L140.1,432.7 L136.0,441.9 L132.6,458.6 L131.4,476.2 L136.8,488.7 L141.0,500.4 L150.2,512.1 L156.0,522.2 L166.9,526.4 L175.3,531.8 L193.6,526.8 L213.7,521.7 L222.9,515.1 L225.4,507.1 L226.3,498.8 L229.6,494.6 L242.1,490.4 L251.3,488.7 L260.5,489.6 L270.6,488.4 L273.9,491.2 L273.1,497.9 L267.2,504.6 L263.0,513.0 L265.6,514.6 L263.0,515.9 L259.7,528.4 L256.4,527.6 L255.5,540.1 L253.0,551.8 L247.2,558.5 L248.8,561.0 L252.2,563.5 L257.2,562.2 L273.9,562.2 L283.9,559.4 L297.3,559.4 L307.4,562.7 L320.7,571.9 L318.2,587.0 L315.7,602.0 L313.2,613.7 L312.0,620.4 L313.2,625.4 L319.1,633.8 L325.8,640.5 L334.1,646.3 L344.0,652.2 L355.2,647.7 L366.1,642.2 L373.6,642.7 L381.9,645.2 L388.6,649.4 L394.5,653.5 L401.2,653.5 L408.7,647.7 L416.2,643.5 L418.7,630.1 L424.6,624.3 L433.8,620.1 L445.5,619.8 L457.2,611.7 L465.6,605.9 L472.2,606.4 L474.7,609.2 L472.2,613.4 L464.7,615.9 L467.2,622.6 L468.9,624.3 L467.2,631.8 L463.0,638.5 L467.2,647.7 L472.2,646.9 L475.6,638.5 L472.2,632.6 L472.2,624.3 L486.5,619.3 L486.5,611.7 L490.6,609.2 L494.8,616.8 L504.0,617.6 L513.2,625.1 L514.0,629.3 L529.1,629.3 L537.6,628.5 L545.1,633.8 L555.1,635.5 L561.8,631.8 L562.6,628.1 L595.3,626.8 L583.5,631.0 L586.9,637.2 L596.9,637.7 L607.0,644.3 L609.5,654.4 L617.8,655.2 L630.4,662.7 L637.9,671.1 L638.7,677.0 L642.9,677.8 L654.6,688.7 L670.5,691.2 L671.3,688.7 L681.4,687.3 L695.6,691.2 L709.8,695.4 L718.2,701.2 L724.8,707.1 L725.7,712.1 L730.7,712.9 L735.7,725.5 L740.7,740.5 L747.4,742.5 L747.6,752.7 L738.4,763.2 L741.7,766.6 L764.8,768.6 L765.2,781.1 L775.2,772.7 L796.1,778.6 L812.0,785.3 L818.7,792.8 L817.0,800.0 L831.2,795.7 L852.1,801.2 L858.8,802.3 L875.5,802.0 L894.7,812.9 L909.0,825.4 L918.2,829.6 L929.0,835.5 L343.8,832.1 L343.8,828.8 L343.5,823.8 L346.8,816.3 L357.7,807.1 L363.5,798.7 L361.0,794.5 L356.0,799.5 L348.5,794.5 L351.0,790.3 L349.3,778.6 L353.2,777.8 L355.2,773.6 L359.4,763.6 L360.2,755.2 L366.9,752.7 L376.1,747.7 L373.6,744.3 L378.6,741.8 L377.8,738.5 L381.1,731.8 L387.8,730.1 L392.8,723.4 L397.8,715.9 L393.6,713.4 L396.2,705.9 L392.8,693.3 L396.2,690.3 L394.5,681.1 L390.3,674.4 L384.4,669.4 L381.1,661.9 L383.6,659.4 L378.6,653.5 L373.6,650.2 L366.9,651.0 L362.7,654.4 L356.0,658.6 L356.0,662.7 L361.0,667.3 L357.7,669.4 L349.3,671.9 L346.8,666.9 L341.8,666.1 L339.3,660.2 L325.1,658.6 L324.2,661.1 L314.2,653.5 L314.2,649.4 L309.9,644.6 L300.7,638.8 L297.3,635.5 L294.8,642.1 L289.0,635.5 L286.5,630.4 L288.1,623.7 L284.8,621.2 L277.3,612.9 L267.2,602.8 L262.2,599.5 L264.7,596.2 L260.5,596.7 L247.2,594.5 L233.8,591.1 L225.4,587.0 L217.1,586.1 L210.4,583.6 L200.3,575.3 L188.6,564.4 L180.3,559.4 L171.9,557.7 L163.5,558.2 L156.0,562.2 L148.5,563.9 L133.4,559.4 L116.7,551.8 L103.7,548.8 L95.0,547.7Z M1270.4,379.6 L1261.6,385.8 L1256.3,390.2 L1250.2,393.7 L1239.6,403.0 L1228.2,404.2 L1221.2,409.5 L1212.5,422.6 L1204.6,427.0 L1200.2,435.8 L1199.3,442.8 L1196.7,449.8 L1191.4,452.5 L1184.4,460.4 L1180.5,469.1 L1180.9,474.4 L1176.5,480.5 L1171.8,484.0 L1170.7,494.6 L1174.7,498.1 L1179.1,503.3 L1181.2,508.6 L1180.0,513.9 L1181.8,522.6 L1182.6,531.4 L1181.8,540.0 L1180.9,544.0 L1177.4,551.1 L1178.2,557.2 L1173.0,567.7 L1167.7,573.9 L1163.0,576.0 L1170.4,580.9 L1175.3,590.5 L1173.5,595.8 L1176.0,607.2 L1180.0,612.5 L1182.6,616.0 L1187.9,617.7 L1197.5,624.7 L1200.2,627.4 L1202.8,634.4 L1208.1,638.8 L1214.2,644.9 L1219.8,651.1 L1221.2,659.8 L1225.6,666.0 L1233.5,672.1 L1243.2,677.4 L1252.8,686.1 L1261.6,691.4 L1270.4,696.7Z M644.5,116.3 L644.5,123.0 L638.7,133.1 L627.8,139.7 L634.5,143.9 L631.1,145.6 L626.1,148.9 L627.8,152.3 L655.4,153.1 L666.3,152.3 L678.8,157.3 L670.4,161.8 L677.1,162.3 L692.2,150.9 L695.5,151.4 L693.5,162.3 L701.4,166.0 L708.1,165.2 L713.1,153.5 L709.2,145.6 L707.2,138.9 L700.0,138.1 L700.9,131.7 L688.8,128.0 L682.1,130.0 L674.6,126.0 L672.1,123.0 L672.1,116.3Z M560.9,123.9 L570.1,123.9 L583.5,127.2 L595.2,132.2 L589.3,134.2 L578.5,131.4 L566.8,127.2Z M561.7,164.0 L565.9,160.6 L570.9,165.7 L581.8,168.2 L592.7,167.7 L587.7,172.3 L580.1,173.2 L571.8,170.7 L564.2,167.8Z M442.3,238.7 L450.4,235.9 L464.6,236.4 L465.4,238.1 L457.1,239.7 L447.0,241.4Z M373.8,420.2 L388.6,418.8 L391.1,417.2 L400.3,423.5 L397.8,433.2 L394.9,431.5 L396.1,425.2 L388.9,422.2 L388.9,423.8 L375.2,426.0Z M384.4,441.1 L388.6,441.6 L391.9,448.6 L393.2,460.3 L389.4,461.1 L386.1,453.6 L381.5,448.6Z M296.5,483.7 L303.2,480.4 L306.5,474.5 L317.4,469.5 L331.7,466.7 L345.1,467.8 L356.0,470.3 L370.2,477.0 L382.7,475.7 L393.6,483.7 L407.0,492.9 L417.0,495.4 L417.8,498.8 L427.0,500.1 L436.2,504.6 L435.4,507.1 L422.0,509.1 L413.6,508.8 L398.6,508.5 L389.4,510.1 L399.4,502.1 L393.6,502.1 L385.2,499.6 L379.4,492.9 L377.7,487.9 L370.2,485.4 L356.0,482.0 L350.1,479.5 L343.9,480.4 L335.9,478.7 L337.4,474.5 L322.5,475.4 L317.4,479.5 L310.4,480.4 L309.0,483.7 L303.2,485.4Z M445.5,510.9 L448.5,508.8 L464.4,510.4 L471.1,508.8 L480.3,509.8 L490.3,512.6 L492.3,516.8 L499.5,517.1 L501.2,521.0 L511.2,526.0 L507.9,531.0 L498.7,528.5 L490.3,528.8 L487.0,531.0 L481.9,529.3 L476.1,532.2 L471.9,538.9 L467.7,536.9 L466.1,531.0 L455.2,530.2 L448.5,531.0 L439.3,533.5 L432.1,528.5 L433.4,525.5 L445.2,526.8 L456.9,527.7 L459.4,525.5 L453.5,520.1 L453.5,514.3Z M524.6,528.5 L527.1,526.8 L538.8,526.8 L544.6,528.0 L547.2,530.2 L544.1,533.8 L533.8,534.3 L525.4,534.8Z M381.9,530.5 L383.9,527.6 L391.4,527.2 L401.3,528.9 L407.9,531.8 L410.3,535.5 L402.1,535.1 L396.7,537.5 L391.4,536.3 L385.6,533.0Z M596.6,627.1 L606.6,625.1 L607.0,635.2 L593.6,635.5Z" fill="none" stroke="#000" stroke-width="2.8" stroke-linejoin="round"/>
<g fill="none" stroke="#151515" stroke-width="2.0" stroke-linejoin="round" stroke-linecap="round">
<path d="M103.7,134.7 L165.6,134.7 L166.2,129.7 L170.2,129.7 L172.2,136.7 L176.1,138.9 L193.6,141.1 L211.7,145.9 L221.7,143.9 L240.1,147.8 L253.0,143.4 L298.2,161.8 L300.7,165.7 L304.3,167.8 L308.2,167.3 L309.0,169.8 L314.0,172.3 L315.7,175.7 L328.3,181.5 L333.6,204.1 L329.9,213.3 L321.6,222.5 L321.1,225.9 L324.9,228.7 L329.9,229.2 L344.0,222.5"/>
<path d="M344.0,222.5 L355.9,218.3 L365.1,215.0 L374.3,214.2 L376.0,209.6 L372.3,209.1 L371.8,205.8 L376.0,204.1 L401.9,203.6 L410.2,196.6 L425.3,186.6 L447.0,186.2 L470.4,185.7 L472.1,182.4 L477.1,181.5 L482.1,179.0 L488.0,169.8 L491.3,162.3 L499.7,154.0 L503.0,157.3 L517.3,157.3 L518.1,175.7 L529.5,187.2"/>
<path d="M103.7,405.1 L110.0,411.0 L112.5,418.5 L115.9,425.2 L125.1,429.4 L135.1,432.7 L140.1,432.7"/>
<path d="M204.5,575.3 L203.7,570.2 L208.7,558.5 L226.3,558.5 L227.1,554.3 L222.9,550.2 L213.7,543.8 L218.7,543.1 L219.1,536.0 L243.0,536.0"/>
<path d="M243.0,536.0 L243.0,560.5 L247.2,560.2"/>
<path d="M243.0,536.0 L247.2,533.4 L251.3,527.6 L256.4,527.6"/>
<path d="M251.3,564.4 L242.1,572.7 L243.0,577.8 L239.6,580.3"/>
<path d="M239.6,580.3 L231.3,587.3"/>
<path d="M239.6,580.3 L243.8,581.9 L250.5,587.8 L256.4,586.1 L261.4,587.8 L261.4,596.2"/>
<path d="M264.7,597.0 L270.6,597.8 L273.9,588.6 L280.6,587.0 L283.1,584.4 L286.5,586.1 L298.2,575.3 L305.7,574.4 L320.7,571.9"/>
<path d="M288.1,623.7 L289.0,621.2 L297.3,624.6 L303.2,622.9 L309.9,626.3 L312.4,624.6"/>
<path d="M323.4,643.5 L325.1,647.7 L324.2,656.1 L323.4,660.2"/>
<path d="M394.5,654.4 L397.0,662.7 L394.5,666.1 L389.5,666.9 L388.6,670.3"/>
<path d="M464.7,616.8 L456.4,624.3 L451.3,633.5 L449.7,642.7 L447.2,647.7 L453.0,648.5 L458.0,658.6 L458.0,667.8 L464.7,675.3 L477.3,674.4 L489.0,676.1 L498.2,686.7 L510.7,685.3 L523.2,686.2 L521.6,694.5 L518.2,700.4 L517.4,706.7 L520.7,716.8 L524.1,720.9 L517.4,729.3 L524.1,734.3 L527.4,743.5 L529.9,748.5"/>
<path d="M529.9,748.5 L526.6,750.5 L524.9,743.5 L521.6,739.3 L517.4,743.5 L491.5,743.5 L492.3,751.9 L499.8,752.7 L499.8,756.9 L489.0,757.7 L489.0,767.8 L495.7,773.6 L497.3,780.3 L490.6,820.4"/>
<path d="M376.1,747.7 L391.1,755.2 L393.6,758.6 L405.4,761.1 L408.7,759.9 L421.2,766.6 L422.9,766.1"/>
<path d="M422.9,766.1 L422.1,777.0 L417.9,785.3 L403.7,798.7 L388.6,804.5 L381.1,815.4 L377.8,823.8 L371.9,828.8 L363.5,822.1 L356.0,821.3 L355.2,818.8 L358.5,815.4 L356.9,809.6"/>
<path d="M422.9,766.1 L433.8,773.6 L437.1,777.8 L443.0,781.1 L449.7,794.5 L458.9,796.5 L466.4,793.7 L471.4,795.4 L479.8,794.5 L489.0,799.5 L480.6,813.7 L490.6,820.4"/>
<path d="M490.6,820.4 L478.1,821.3 L467.2,823.8 L458.9,828.8"/>
<path d="M529.9,748.5 L536.6,756.1 L546.8,755.2 L549.3,751.0 L563.5,746.0 L566.0,741.0 L575.2,737.1 L575.2,734.8 L563.8,732.6 L561.8,725.1 L561.8,716.7 L556.0,712.5 L568.5,713.7 L578.5,717.1 L581.9,714.6 L595.3,710.4 L607.0,706.2 L611.1,700.4"/>
<path d="M620.3,658.6 L611.1,665.3 L610.3,670.3 L614.5,673.6 L613.6,676.1 L603.6,679.5 L602.8,685.3 L600.3,688.7 L611.1,700.4"/>
<path d="M611.1,700.4 L616.2,698.7 L617.8,705.4 L623.7,713.7 L620.3,722.1 L619.5,730.5 L623.7,740.5 L631.2,748.0 L637.1,748.9 L639.6,746.4 L647.1,743.8 L652.9,740.5 L662.1,741.3"/>
<path d="M654.6,688.7 L652.9,700.4 L645.4,703.7 L643.7,712.9 L648.8,722.1 L653.8,723.8 L657.1,732.1 L662.1,741.3"/>
<path d="M662.1,741.3 L669.7,742.2 L668.8,733.8 L681.4,733.0 L687.2,735.5"/>
<path d="M695.6,692.0 L688.9,703.7 L691.4,713.7 L694.7,719.6 L690.6,732.1 L687.2,735.5"/>
<path d="M687.2,735.5 L695.6,738.8 L700.6,734.6 L703.1,738.8 L709.0,738.0 L714.8,732.1 L720.7,720.4 L725.7,712.9"/>
<path d="M468.2,510.1 L469.4,518.5 L466.1,525.2 L467.7,530.2"/>
<path d="M1263.3,420.0 L1254.6,418.2 L1244.0,419.5 L1239.6,430.5 L1235.3,431.4 L1230.0,446.3 L1211.6,460.4 L1207.2,477.9 L1201.9,484.0 L1200.2,489.3"/>
<path d="M1172.1,489.8 L1200.2,489.1"/>
<path d="M1172.1,491.1 L1200.2,490.7 L1223.9,490.7 L1221.2,472.6 L1224.7,465.6 L1237.0,464.7 L1236.1,431.4 L1263.3,431.8"/>
<path d="M1178.2,555.4 L1182.6,553.7 L1189.6,554.6 L1195.8,551.9 L1202.8,551.9 L1216.0,558.1 L1224.7,567.7 L1234.4,577.0"/>
<path d="M1234.4,577.0 L1237.9,574.7 L1239.6,567.7 L1244.0,566.8 L1252.8,570.4 L1263.3,567.2"/>
<path d="M1234.4,577.0 L1234.9,584.4 L1237.9,592.3 L1242.3,597.5 L1242.3,605.4"/>
<path d="M1175.3,590.5 L1187.9,590.0 L1192.3,587.0 L1197.5,587.9 L1201.9,590.5 L1207.2,589.6 L1209.8,587.9 L1211.6,591.4 L1207.2,594.0 L1200.2,594.0 L1194.9,591.4 L1191.4,592.3 L1185.3,596.3 L1173.9,596.3"/>
<path d="M1176.0,605.4 L1189.6,602.3 L1204.6,602.8 L1221.2,603.3 L1230.0,606.8 L1233.5,605.1 L1242.3,605.8"/>
<path d="M1242.3,605.8 L1243.2,609.8 L1249.3,608.1 L1256.3,611.6 L1263.3,612.5"/>
<path d="M1214.2,603.7 L1212.5,609.8 L1212.5,614.2 L1207.2,616.0 L1201.1,617.7 L1196.7,622.6"/>
<path d="M1220.4,650.7 L1225.6,645.8 L1230.0,639.6 L1237.0,636.1 L1246.7,636.1 L1251.1,642.3 L1253.7,647.5 L1255.4,658.9"/>
<path d="M1255.4,658.9 L1248.4,667.7 L1243.2,677.4"/>
<path d="M1255.4,658.9 L1263.3,656.3"/>
</g>
<g stroke="#555" stroke-width="1.67" stroke-dasharray="1.67 2.75" fill="none" opacity="0.45">
<path d="M361.3,122.0 V829.9"/>
<path d="M618.6,122.0 V829.9"/>
<path d="M876.0,122.0 V829.9"/>
<path d="M1133.3,122.0 V829.9"/>
<path d="M104.0,765.0 H1261.9"/>
<path d="M104.0,636.5 H1261.9"/>
<path d="M104.0,508.0 H1261.9"/>
<path d="M104.0,379.5 H1261.9"/>
<path d="M104.0,251.0 H1261.9"/>
</g>
</g>
<rect x="104.0" y="122.0" width="1157.9" height="707.9" fill="none" stroke="#000" stroke-width="2.2"/>
<g opacity="0.999">
<text x="334.29" y="99.7" font-size="35.3" textLength="240.02" lengthAdjust="spacingAndGlyphs" fill="#000">Pangu-ECMWF</text>
<text x="586.60" y="99.7" font-size="35.3" textLength="13.55" lengthAdjust="spacingAndGlyphs" fill="#000">–</text>
<text x="611.90" y="99.7" font-size="35.3" textLength="64.98" lengthAdjust="spacingAndGlyphs" fill="#000">Day</text>
<text x="689.28" y="99.7" font-size="35.3" textLength="19.89" lengthAdjust="spacingAndGlyphs" fill="#000">5</text>
<text x="722.04" y="99.7" font-size="35.3" textLength="86.98" lengthAdjust="spacingAndGlyphs" fill="#000">(10m</text>
<text x="821.40" y="99.7" font-size="35.3" textLength="81.97" lengthAdjust="spacingAndGlyphs" fill="#000">Wind</text>
<text x="913.23" y="99.7" font-size="35.3" textLength="117.55" lengthAdjust="spacingAndGlyphs" fill="#000">Speed)</text>
<text x="347.46" y="904.5" font-size="25.0" textLength="60.80" lengthAdjust="spacingAndGlyphs" fill="#333">Max:</text>
<text x="415.69" y="904.5" font-size="25.0" textLength="30.81" lengthAdjust="spacingAndGlyphs" fill="#333">40</text>
<text x="454.44" y="904.5" font-size="25.0" textLength="24.95" lengthAdjust="spacingAndGlyphs" fill="#333">kt</text>
<text x="486.92" y="904.5" font-size="25.0" textLength="27.69" lengthAdjust="spacingAndGlyphs" fill="#333">@</text>
<text x="521.06" y="904.5" font-size="25.0" textLength="95.33" lengthAdjust="spacingAndGlyphs" fill="#333">46.2°N,</text>
<text x="624.18" y="904.5" font-size="25.0" textLength="91.91" lengthAdjust="spacingAndGlyphs" fill="#333">52.2°W</text>
<text x="726.04" y="904.5" font-size="25.0" textLength="11.02" lengthAdjust="spacingAndGlyphs" fill="#333">•</text>
<text x="748.00" y="904.5" font-size="25.0" textLength="59.95" lengthAdjust="spacingAndGlyphs" fill="#333">Valid</text>
<text x="815.36" y="904.5" font-size="25.0" textLength="143.92" lengthAdjust="spacingAndGlyphs" fill="#333">2025-11-12</text>
<text x="968.13" y="904.5" font-size="25.0" textLength="50.24" lengthAdjust="spacingAndGlyphs" fill="#333">00Z</text>
<text x="19.84" y="259.4" font-size="29.4" textLength="69.49" lengthAdjust="spacingAndGlyphs" fill="#000">40°N</text>
<text x="19.84" y="387.9" font-size="29.4" textLength="69.49" lengthAdjust="spacingAndGlyphs" fill="#000">30°N</text>
<text x="19.84" y="516.4" font-size="29.4" textLength="69.49" lengthAdjust="spacingAndGlyphs" fill="#000">20°N</text>
<text x="20.20" y="644.9" font-size="29.4" textLength="69.12" lengthAdjust="spacingAndGlyphs" fill="#000">10°N</text>
<text x="59.54" y="773.4" font-size="29.4" textLength="29.91" lengthAdjust="spacingAndGlyphs" fill="#000">0°</text>
<text x="324.69" y="865.7" font-size="29.4" textLength="74.53" lengthAdjust="spacingAndGlyphs" fill="#000">80°W</text>
<text x="582.01" y="865.7" font-size="29.4" textLength="74.53" lengthAdjust="spacingAndGlyphs" fill="#000">60°W</text>
<text x="839.33" y="865.7" font-size="29.4" textLength="74.53" lengthAdjust="spacingAndGlyphs" fill="#000">40°W</text>
<text x="1096.65" y="865.7" font-size="29.4" textLength="74.53" lengthAdjust="spacingAndGlyphs" fill="#000">20°W</text>
<text x="1355.76" y="942.6" font-size="29.4" textLength="33.97" lengthAdjust="spacingAndGlyphs" fill="#000">20</text>
<text x="1355.76" y="721.3" font-size="29.4" textLength="33.97" lengthAdjust="spacingAndGlyphs" fill="#000">40</text>
<text x="1355.76" y="543.8" font-size="29.4" textLength="33.97" lengthAdjust="spacingAndGlyphs" fill="#000">60</text>
<text x="1355.76" y="379.7" font-size="29.4" textLength="33.97" lengthAdjust="spacingAndGlyphs" fill="#000">80</text>
<text x="1355.48" y="223.7" font-size="29.4" textLength="52.03" lengthAdjust="spacingAndGlyphs" fill="#000">100</text>
<text x="1355.48" y="73.6" font-size="29.4" textLength="52.03" lengthAdjust="spacingAndGlyphs" fill="#000">120</text>
<g transform="translate(1440.0,668) rotate(-90)"><text x="-0.97" y="0" font-size="29.4" textLength="62.15" lengthAdjust="spacingAndGlyphs">10m</text><text x="69.60" y="0" font-size="29.4" textLength="74.59" lengthAdjust="spacingAndGlyphs">Wind</text><text x="149.09" y="0" font-size="29.4" textLength="86.14" lengthAdjust="spacingAndGlyphs">Speed</text><text x="241.78" y="0" font-size="29.4" textLength="99.54" lengthAdjust="spacingAndGlyphs">(knots)</text></g>
</g>
<rect x="1289.55" y="62.90" width="45.45" height="868.95" fill="url(#cb)"/>
<path d="M1289.55,63.40 L1312.28,20.30 L1335.00,63.40 Z" fill="#7a0403"/>
<path d="M1289.55,931.85 L1289.55,62.90 L1312.28,20.30 L1335.00,62.90 L1335.00,931.85 Z" fill="none" stroke="#000" stroke-width="2.2" stroke-linejoin="miter"/>
<path d="M1336.00,931.85 h9.7" stroke="#000" stroke-width="2.0"/>
<path d="M1336.00,710.61 h9.7" stroke="#000" stroke-width="2.0"/>
<path d="M1336.00,533.06 h9.7" stroke="#000" stroke-width="2.0"/>
<path d="M1336.00,368.96 h9.7" stroke="#000" stroke-width="2.0"/>
<path d="M1336.00,213.03 h9.7" stroke="#000" stroke-width="2.0"/>
<path d="M1336.00,62.90 h9.7" stroke="#000" stroke-width="2.0"/>
</svg>
</body></html>
